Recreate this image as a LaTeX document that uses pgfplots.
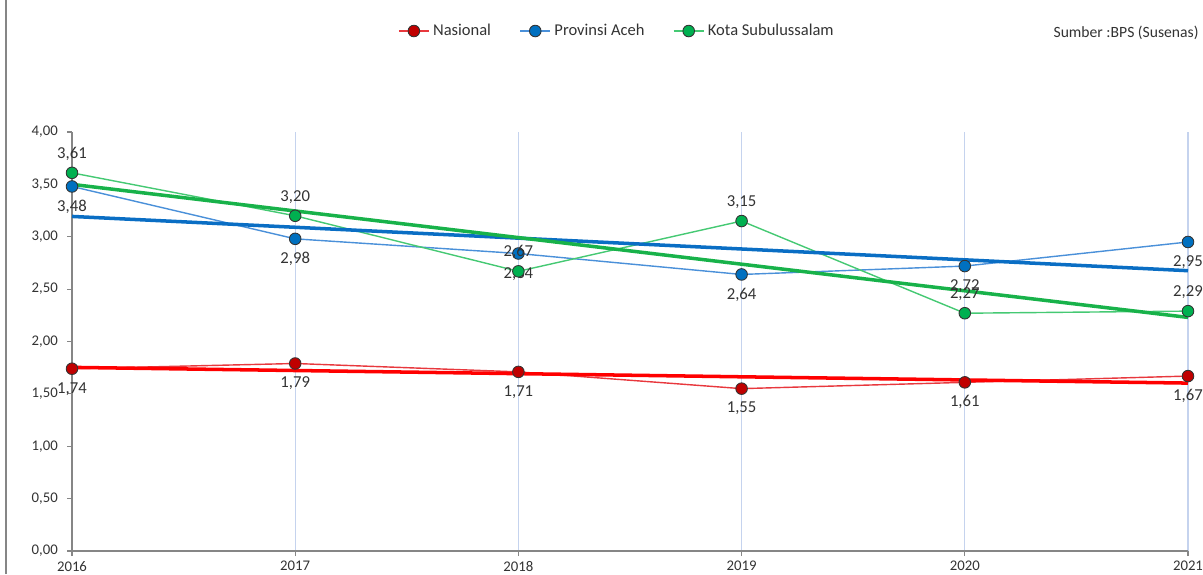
\documentclass[border=0pt]{standalone}
\usepackage{fontspec}
\setmainfont{Carlito}
\usepackage{pgfplots}
\pgfplotsset{compat=1.18}

\definecolor{natline}{HTML}{E8383D}
\definecolor{natmark}{HTML}{C00000}
\definecolor{nattrend}{HTML}{FF0000}
\definecolor{acehline}{HTML}{4A90D9}
\definecolor{acehmark}{HTML}{0070C0}
\definecolor{acehtrend}{HTML}{0A6EC4}
\definecolor{kotaline}{HTML}{45C973}
\definecolor{kotamark}{HTML}{00B050}
\definecolor{kotatrend}{HTML}{18B24A}
\definecolor{axisgray}{HTML}{868686}
\definecolor{gridblue}{HTML}{C5D3EE}
\definecolor{labeltext}{HTML}{333333}

\begin{document}
\begin{tikzpicture}
\begin{axis}[
    at={(0,0)}, anchor=south west,
    scale only axis,
    width=22.32cm, height=8.38cm,
    xmin=2016, xmax=2021,
    ymin=0, ymax=4,
    xtick={2016,2017,2018,2019,2020,2021},
    xticklabels={2016,2017,2018,2019,2020,2021},
    ytick={0,0.5,1,1.5,2,2.5,3,3.5,4},
    axis lines=left,
    axis line style={-, axisgray, line width=0.7pt},
    tick align=outside,
    major tick length=0.1cm,
    tick style={axisgray, line width=0.6pt},
    xmajorgrids,
    grid style={gridblue, line width=0.6pt},
    clip=false,
    /pgf/number format/.cd, use comma, fixed, fixed zerofill, precision=2, 1000 sep={}, assume math mode=true,
    /pgfplots/.cd,
    ticklabel style={font=\fontsize{8.4}{9}\selectfont, text=labeltext},
    xticklabel style={yshift=0.02cm},
    yticklabel style={xshift=-0.06cm},
    legend columns=3,
    legend style={at={(axis description cs:0.489,1.241)}, anchor=center,
        draw=none, fill=none, font=\fontsize{9.4}{10}\selectfont,
        text=labeltext,
        /tikz/every even column/.append style={column sep=0.5cm}},
    every node near coord/.append style={font=\fontsize{9.5}{10}\selectfont, text=labeltext, anchor=center},
]
% Nasional
\addplot[natline, line width=0.8pt, mark=*, mark size=3.3pt,
    mark options={fill=natmark, draw=black!80, line width=0.5pt},
    nodes near coords, every node near coord/.append style={yshift=-0.4cm}]
coordinates {(2016,1.74) (2017,1.79) (2018,1.71) (2019,1.55) (2020,1.61) (2021,1.67)};
\addlegendentry{Nasional}
% Provinsi Aceh
\addplot[acehline, line width=0.8pt, mark=*, mark size=3.3pt,
    mark options={fill=acehmark, draw=black!80, line width=0.5pt},
    nodes near coords, every node near coord/.append style={yshift=-0.4cm}]
coordinates {(2016,3.48) (2017,2.98) (2018,2.84) (2019,2.64) (2020,2.72) (2021,2.95)};
\addlegendentry{Provinsi Aceh}
% Kota Subulussalam
\addplot[kotaline, line width=0.8pt, mark=*, mark size=3.3pt,
    mark options={fill=kotamark, draw=black!80, line width=0.5pt},
    nodes near coords, every node near coord/.append style={yshift=0.38cm}]
coordinates {(2016,3.61) (2017,3.20) (2018,2.67) (2019,3.15) (2020,2.27) (2021,2.29)};
\addlegendentry{Kota Subulussalam}
% trend lines
\addplot[nattrend, line width=2pt, forget plot] coordinates {(2016,1.753) (2021,1.603)};
\addplot[acehtrend, line width=2pt, forget plot] coordinates {(2016,3.194) (2021,2.676)};
\addplot[kotatrend, line width=2pt, forget plot] coordinates {(2016,3.50) (2021,2.23)};
\node[anchor=west, font=\fontsize{8.9}{10}\selectfont, text=labeltext]
    at (axis description cs:0.874,1.236) {Sumber :BPS (Susenas)};
\end{axis}
\draw[axisgray, line width=0.8pt] (-1.32,-0.46) -- (-1.32,11.02);
\pgfresetboundingbox
\path[use as bounding box] (-1.44,-0.46) rectangle (22.62,11.02);
\end{tikzpicture}
\end{document}
